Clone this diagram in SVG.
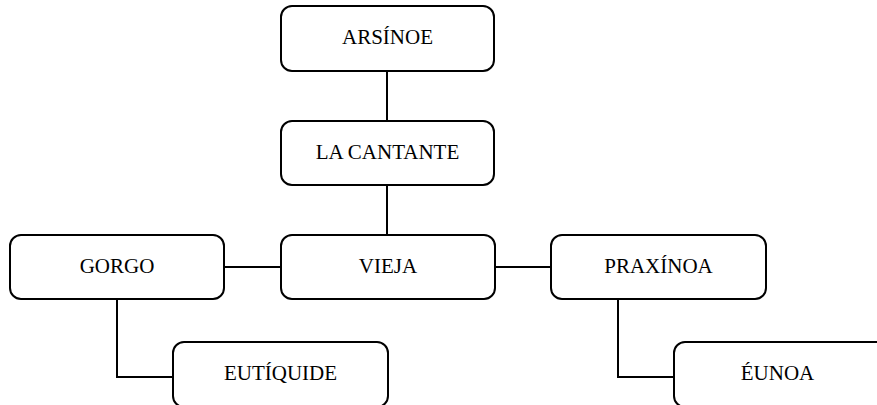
<svg xmlns="http://www.w3.org/2000/svg" width="877" height="405" viewBox="0 0 877 405">
<style>
.box{fill:#fff;stroke:#000;stroke-width:2}
.lbl{font-family:"Liberation Serif","Times New Roman",serif;font-size:21px;fill:#000;text-anchor:middle}
.con{fill:none;stroke:#000;stroke-width:2}
</style>
<rect width="877" height="405" fill="#fff"/>
<g id="connectors">
<line class="con" x1="387" y1="71" x2="387" y2="121"/>
<line class="con" x1="387" y1="185" x2="387" y2="235"/>
<line class="con" x1="224" y1="267" x2="281" y2="267"/>
<line class="con" x1="495" y1="267" x2="551" y2="267"/>
<polyline class="con" points="117,299 117,377 173,377"/>
<polyline class="con" points="618,299 618,377 674,377"/>
</g>
<g id="arsinoe"><rect class="box" x="281" y="6" width="213" height="65" rx="11"/><text class="lbl" x="387.5" y="44">ARSÍNOE</text></g>
<g id="la-cantante"><rect class="box" x="281" y="121" width="213" height="64" rx="11"/><text class="lbl" x="387.5" y="159">LA CANTANTE</text></g>
<g id="vieja"><rect class="box" x="281" y="235" width="214" height="64" rx="11"/><text class="lbl" x="388" y="273">VIEJA</text></g>
<g id="gorgo"><rect class="box" x="10" y="235" width="214" height="64" rx="11"/><text class="lbl" x="117" y="273">GORGO</text></g>
<g id="praxinoa"><rect class="box" x="551" y="235" width="215" height="64" rx="11"/><text class="lbl" x="658.5" y="273">PRAXÍNOA</text></g>
<g id="eutiquide"><rect class="box" x="173" y="342" width="215" height="65" rx="11"/><text class="lbl" x="280.5" y="380">EUTÍQUIDE</text></g>
<g id="eunoa"><rect class="box" x="674" y="342" width="215" height="65" rx="11"/><text class="lbl" x="777.5" y="380">ÉUNOA</text></g>
</svg>
